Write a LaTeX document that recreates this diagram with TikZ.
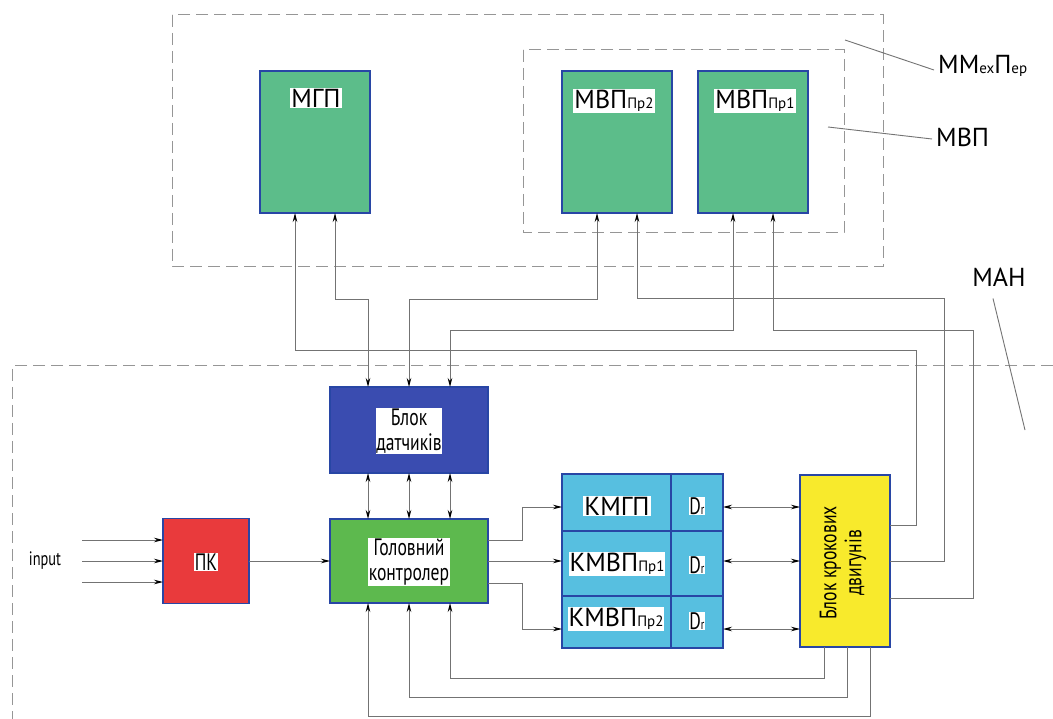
\documentclass[tikz,border=0pt]{standalone}
\usepackage{fontspec}
\setmainfont{PT Sans}
\usetikzlibrary{arrows.meta,calc}
\definecolor{bordblue}{RGB}{40,70,165}
\definecolor{topgreen}{RGB}{92,189,138}
\definecolor{gkgreen}{RGB}{93,185,78}
\definecolor{bdblue}{RGB}{58,76,176}
\definecolor{pkred}{RGB}{233,58,60}
\definecolor{tabblue}{RGB}{87,191,224}
\definecolor{bkyellow}{RGB}{248,234,44}
\definecolor{linegray}{RGB}{115,115,115}
\definecolor{dashgray}{RGB}{150,150,150}
\newcommand{\nr}[1]{\scalebox{0.8}[1.08]{#1}}
\newcommand{\bigf}{\fontsize{26}{30}\selectfont}
\newcommand{\subf}{\fontsize{15}{17}\selectfont}
\newcommand{\blkf}{\fontsize{22}{25}\selectfont}
\begin{document}
\begin{tikzpicture}[x=1pt,y=-1pt,
  blk/.style={draw=bordblue, line width=1.6pt, inner sep=0pt, outer sep=0pt},
  lbl/.style={fill=white, inner sep=1pt, text=black},
  slbl/.style={fill=white, inner sep=0.5pt, text=black, align=center, font=\blkf},
  conn/.style={draw=linegray, line width=0.9pt},
  arr/.style={conn, -{Stealth[length=9pt,width=4.5pt,color=black]}},
  darr/.style={conn, {Stealth[length=9pt,width=4.5pt,color=black]}-{Stealth[length=9pt,width=4.5pt,color=black]}},
  dbox/.style={draw=dashgray, line width=1pt, dash pattern=on 12pt off 6pt},
  leader/.style={draw=linegray, line width=0.9pt}]
\useasboundingbox (0,0) rectangle (1053,719);
\fill[white] (0,0) rectangle (1053,719);

% dashed groups
\draw[dbox] (172,15) rectangle (883,267);
\draw[dbox] (523,50) rectangle (844,233);
\draw[dbox] (1053,366) -- (12,366) -- (12,719);

% outer labels
\node[anchor=west, inner sep=0pt] (lmm) at (938,66) {\bigf ММ{\subf ех}П{\subf ер}};
\node[anchor=west, inner sep=0pt] (lmvp) at (936,137) {\bigf МВП};
\node[inner sep=0pt] (lman) at (999,277) {\bigf МАН};
\coordinate (p1) at (845,40);
\coordinate (p2) at (828,127);
\coordinate (p3) at (1025,430);
\draw[leader] (p1) -- ([xshift=-4pt,yshift=-4pt]lmm.west);
\draw[leader] (p2) -- ([xshift=-4pt,yshift=-2pt]lmvp.west);
\draw[leader] ([xshift=-6pt,yshift=-12pt]lman.south) -- (p3);

% top boxes
\node[blk, fill=topgreen, minimum width=110, minimum height=142] (mgp) at (315,142) {};
\node[blk, fill=topgreen, minimum width=110, minimum height=142] (mvp2) at (617,142) {};
\node[blk, fill=topgreen, minimum width=110, minimum height=142] (mvp1) at (753,142) {};
\node[lbl] (tmgp) at (316,98) {\bigf МГП};
\node[lbl] (tmvp2) at (614,101) {\bigf МВП{\subf Пр2}};
\node[lbl] (tmvp1) at (755,101) {\bigf МВП{\subf Пр1}};

% lower blocks
\node[blk, fill=bdblue, minimum width=158, minimum height=86] (bd) at (409,430) {};
\node[slbl] (bdt) at (409,431) {\nr{Блок}\\\nr{датчиків}};
\node[blk, fill=gkgreen, minimum width=158, minimum height=84] (gk) at (409,561) {};
\node[slbl] (gkt) at (409,562) {\nr{Головний}\\\nr{контролер}};
\node[blk, fill=pkred, minimum width=86, minimum height=85] (pk) at (206,561) {};
\node[slbl] (pkt) at (206,562) {\nr{ПК}};
\node[inner sep=0pt] (inp) at (45,561) {\fontsize{18}{21}\selectfont\nr{input}};

% table
\node[blk, fill=tabblue, minimum width=109, minimum height=57] (c1) at (616.5,502.5) {};
\node[blk, fill=tabblue, minimum width=109, minimum height=65] (c2) at (616.5,563.5) {};
\node[blk, fill=tabblue, minimum width=109, minimum height=52] (c3) at (616.5,622) {};
\node[blk, fill=tabblue, minimum width=52, minimum height=57] (d1) at (697,502.5) {};
\node[blk, fill=tabblue, minimum width=52, minimum height=65] (d2) at (697,563.5) {};
\node[blk, fill=tabblue, minimum width=52, minimum height=52] (d3) at (697,622) {};
\node[lbl] (tc1) at (617,506) {\bigf КМГП};
\node[lbl] (tc2) at (617,564) {\bigf КМВП{\subf Пр1}};
\node[lbl] (tc3) at (616,619) {\bigf КМВП{\subf Пр2}};
\node[slbl] (td1) at (697,506) {\nr{D{\fontsize{13}{14}\selectfont r}}};
\node[slbl] (td2) at (697,565) {\nr{D{\fontsize{13}{14}\selectfont r}}};
\node[slbl] (td3) at (697,621) {\nr{D{\fontsize{13}{14}\selectfont r}}};

% stepper block
\node[blk, fill=bkyellow, minimum width=90, minimum height=172] (bk) at (845,561) {};
\node[rotate=90, align=center, inner sep=0pt, font=\blkf] (bkt) at (843,563) {\nr{Блок крокових}\\\nr{двигунів}};

% row levels
\coordinate (r1) at (0,507);
\coordinate (r2) at (0,561);
\coordinate (r3) at (0,629);
\coordinate (in1) at (82,540);
\coordinate (in2) at (82,561);
\coordinate (in3) at (82,582);

% inputs
\draw[arr] (in1) -- (pk.west |- in1);
\draw[arr] (in2) -- (pk.west |- in2);
\draw[arr] (in3) -- (pk.west |- in3);
\draw[arr] (pk.east) -- (gk.west |- pk.east);

% controller to table
\draw[arr] ([yshift=21pt]gk.east) -| (522,507) -- (c1.west |- r1);
\draw[arr] (gk.east) -- (c2.west |- gk.east);
\draw[arr] ([yshift=-22pt]gk.east) -| (522,629) -- (c3.west |- r3);

% drivers to stepper block
\draw[darr] (d1.east |- r1) -- (bk.west |- r1);
\draw[darr] (d2.east |- r2) -- (bk.west |- r2);
\draw[darr] (d3.east |- r3) -- (bk.west |- r3);

% sensors <-> controller
\foreach \s in {-41,0,41}
  \draw[darr] ([xshift=\s pt]bd.south) -- ([xshift=\s pt]gk.north);

% stepper block feedback to controller
\draw[arr] ([xshift=-21pt]bk.south) |- (450,678) -- ([xshift=41pt]gk.south);
\draw[arr] ([xshift=2pt]bk.south) |- (409,697) -- (gk.south);
\draw[arr] ([xshift=25pt]bk.south) |- (368,716) -- ([xshift=-41pt]gk.south);

% stepper block to top modules
\draw[arr] ([yshift=36pt]bk.east) -| (916,350) -| ([xshift=-20pt]mgp.south);
\draw[arr] (bk.east) -| (944,298) -| ([xshift=20pt]mvp2.south);
\draw[arr] ([yshift=-37pt]bk.east) -| (973,330) -| ([xshift=20pt]mvp1.south);

% sensors <-> top modules
\draw[darr] ([xshift=20pt]mgp.south) |- (368,299) -- ([xshift=-41pt]bd.north);
\draw[darr] (bd.north) |- (597,299) -- ([xshift=-20pt]mvp2.south);
\draw[darr] ([xshift=41pt]bd.north) |- (733,330) -- ([xshift=-20pt]mvp1.south);
\end{tikzpicture}
\end{document}
